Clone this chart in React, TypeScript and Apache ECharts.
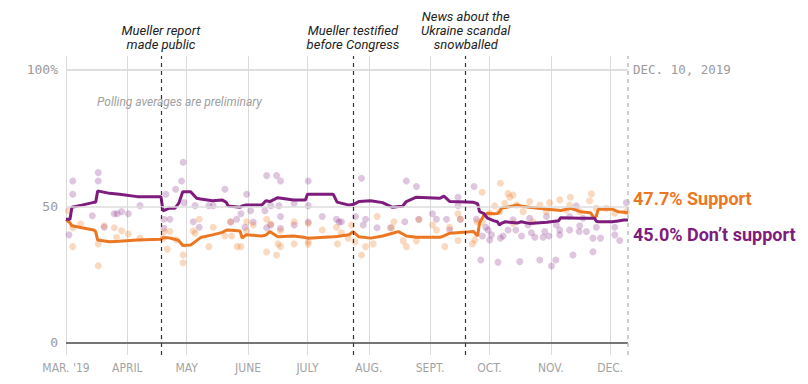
import React, { useEffect, useRef } from "react";
import * as echarts from "echarts";

// x values are days since March 1, 2019
const monthTicks = [0, 31, 61, 92, 122, 153, 184, 214, 245, 275];
const monthLabels = ["MAR. '19", "APRIL", "MAY", "JUNE", "JULY", "AUG.", "SEPT.", "OCT.", "NOV.", "DEC."];
const endDay = 284;
const endDateLabel = "DEC. 10, 2019";
const yTickValues = [0, 50, 100];
const yTickLabels = ["0", "50", "100%"];

const eventDays = [48, 145, 202];
const eventLabels = [
  "Mueller report\nmade public",
  "Mueller testified\nbefore Congress",
  "News about the\nUkraine scandal\nsnowballed",
];

const noteText = "Polling averages are preliminary";

const avgDays = [
  0, 2, 3, 8, 14, 15, 16, 22, 27, 36, 48, 49, 52, 55, 57, 59, 63, 66, 68, 74,
  79, 81, 82, 88, 89, 91, 99, 101, 103, 107, 115, 121, 122, 135, 137, 143, 145, 148, 154, 160,
  165, 168, 170, 172, 177, 189, 191, 194, 206, 208, 209, 211, 213, 216, 218, 219, 220, 222, 224, 228,
  230, 234, 243, 249, 250, 255, 260, 265, 267, 268, 269, 276, 279, 282, 284,
];
const supportAvg = [
  45.3, 44.0, 42.9, 42.2, 41.4, 40.8, 37.7, 37.1, 37.3, 37.7, 38.0, 38.5, 38.5, 38.0, 37.5, 35.7, 35.9, 37.5, 38.6, 39.6,
  40.5, 41.3, 41.4, 41.0, 38.4, 39.6, 39.2, 39.5, 40.8, 38.9, 39.2, 38.6, 38.4, 38.9, 39.0, 39.6, 40.8, 38.9, 38.4, 39.2,
  40.2, 40.8, 40.0, 39.2, 38.7, 38.7, 39.2, 40.2, 40.8, 39.2, 44.0, 46.5, 47.5, 47.3, 47.4, 48.0, 49.3, 49.6, 49.9, 50.5,
  50.2, 49.7, 49.0, 48.6, 48.5, 49.3, 48.1, 47.7, 45.7, 46.5, 49.0, 49.0, 48.1, 47.9, 47.7,
];
const opposeAvg = [
  45.3, 45.3, 49.7, 50.5, 51.5, 51.5, 55.7, 54.8, 54.5, 53.6, 53.6, 48.4, 49.3, 49.3, 51.2, 55.4, 55.4, 53.0, 52.7, 52.1,
  52.4, 51.5, 50.2, 49.7, 50.2, 50.5, 50.5, 52.1, 51.8, 53.2, 52.4, 52.4, 54.5, 54.5, 51.6, 50.5, 50.7, 51.8, 52.1, 51.4,
  49.7, 50.0, 50.0, 51.8, 53.4, 53.0, 53.8, 51.8, 51.5, 51.0, 48.1, 47.5, 45.7, 44.8, 44.4, 43.2, 43.8, 44.4, 44.2, 43.9,
  44.4, 43.8, 44.2, 44.8, 45.9, 45.8, 45.7, 45.7, 45.7, 44.6, 44.4, 44.4, 44.7, 45.0, 45.0,
];

// individual polls: [day, value]
const supportPolls = [
  [1.2, 48.4], [3.4, 42.2], [3.4, 35.3], [7.4, 43.6], [16.3, 36.3], [16.3, 28.3], [19.3, 42.9], [24.4, 42.2], [25.6, 38.7], [28.1, 41.1],
  [31.5, 39.9], [37.4, 38.4], [49.1, 38.4], [49.6, 40.8], [51.2, 34.3], [52.5, 40.8], [55.9, 37.7], [59.2, 32.2], [59.2, 29.4], [64.3, 41.1],
  [65.2, 40.2], [67.3, 45.3], [72.2, 35.3], [74.4, 42.4], [80.3, 39.2], [83.2, 44.4], [83.7, 39.2], [86.5, 35.3], [88.4, 35.3], [91.3, 44.4],
  [91.3, 41.1], [94.6, 43.2], [101.4, 45.3], [101.4, 33.3], [103.5, 43.6], [106.4, 32.2], [107.2, 36.3], [108.4, 41.1], [108.4, 35.3], [115.3, 44.4],
  [115.3, 36.3], [122.4, 43.8], [122.4, 37.1], [122.4, 36.2], [129.5, 41.4], [136.7, 42.4], [137.2, 36.3], [139.2, 40.4], [142.6, 38.4], [144.3, 43.2],
  [146, 37.1], [149.3, 32.2], [151.4, 35.3], [155.2, 36.3], [157.2, 46.3], [164.5, 42.2], [165.7, 44.4], [170.4, 37.4], [172, 35.3], [177.1, 37.4],
  [178.3, 45.1], [185.2, 43.2], [187.2, 41.4], [191.4, 35.3], [193.9, 42.4], [198.1, 47.3], [198.1, 37.5], [199.3, 45.3], [205.4, 36.3], [206.6, 37.7],
  [207.7, 44.4], [210.3, 55.2], [210.4, 44.4], [214.1, 47.5], [216.7, 50.2], [219.2, 48.1], [219.5, 58.5], [221.7, 51.2], [223.4, 54.8], [224.2, 53.4],
  [225.9, 54.2], [225.9, 43.8], [227.6, 50.5], [231, 48.1], [234.3, 51.8], [236, 44.4], [239.4, 50.5], [242.8, 48.1], [244.4, 51.4], [249.5, 52.4],
  [252.9, 48.7], [254.5, 50.5], [254.9, 53.4], [259.6, 48.1], [264.6, 52.1], [265.5, 54.6], [268, 49.3], [273.1, 49.3], [277.3, 47.5], [283.2, 48.1],
];
const opposePolls = [
  [1.5, 39.6], [3.4, 59.3], [3.4, 54.5], [13.3, 46.6], [16.3, 62.4], [16.3, 59.3], [19.3, 42.4], [24.4, 47.3], [25.9, 47.3], [28.1, 48.1],
  [31.5, 47.3], [37.4, 50.3], [49.5, 45.3], [49.5, 42.0], [50.5, 54.5], [52.5, 45.3], [55.4, 56.3], [58.4, 59.3], [59.2, 66.2], [59.6, 51.4],
  [64.3, 44.4], [65.2, 50.3], [67.3, 42.4], [72.2, 50.3], [74.4, 50.3], [80.3, 56.3], [83.2, 44.3], [86.2, 45.3], [88.4, 47.3], [90.4, 42.4],
  [91.3, 54.5], [93.3, 48.4], [94.6, 44.3], [100.5, 48.4], [101.4, 61.3], [101.4, 42.2], [103.4, 43.2], [103.5, 50.3], [106.4, 61.3], [107.6, 50.3],
  [108.4, 59.3], [108.4, 46.3], [108.4, 42.0], [115.3, 51.2], [115.3, 43.2], [122.4, 59.3], [122.4, 50.3], [122.4, 44.3], [129.5, 46.3], [136.7, 45.3],
  [138, 44.3], [139.2, 44.4], [146.3, 46.3], [149.3, 60.3], [150.2, 43.2], [151.4, 45.3], [157.2, 42.2], [164, 42.2], [171.2, 44.4], [172, 59.3],
  [177.1, 57.3], [178.3, 45.3], [185.2, 47.3], [187.2, 45.3], [192.3, 45.3], [193.9, 41.4], [198.1, 53.4], [198.1, 50.3], [199.3, 45.3], [206.2, 57.3],
  [207.4, 45.3], [209.6, 30.4], [210.4, 39.2], [212.1, 42.4], [213.3, 41.4], [214.1, 37.7], [215, 39.6], [218.3, 29.6], [219.5, 38.4], [220.9, 39.2],
  [223.4, 41.4], [225.9, 45.1], [227.3, 41.4], [229.3, 29.8], [230.2, 39.2], [233.5, 43.2], [234.3, 45.7], [235.2, 40.4], [236.9, 38.7], [239.4, 30.4],
  [241.1, 38.7], [241.9, 40.8], [242.8, 46.3], [244.1, 39.2], [245.3, 28.2], [247.5, 30.4], [247.8, 43.2], [249.5, 41.4], [249.5, 39.6], [254.5, 41.4],
  [254.5, 46.3], [256.2, 32.2], [257.9, 50.2], [259.3, 40.8], [259.6, 42.9], [261.3, 45.7], [263, 40.8], [266.3, 38.4], [266.3, 33.4], [268, 42.4],
  [270.1, 38.4], [277.3, 42.4], [277.3, 39.6], [279.8, 37.5], [283.2, 51.4],
];

const ORANGE = "#ec7722";
const PURPLE = "#7e1c7e";
const SANS = "Roboto, 'Noto Sans', sans-serif";
const MONO = "'DejaVu Sans Mono', 'Liberation Mono', monospace";
const NARROW = "'Liberation Sans Narrow', 'DejaVu Sans Condensed', Roboto, sans-serif";

export default function App() {
  const ref = useRef<HTMLDivElement>(null);

  useEffect(() => {
    if (!ref.current) return;
    const chart = echarts.init(ref.current, undefined, { renderer: "svg" });

    const hLines: any[] = yTickValues.map((v, i) => ({
      yAxis: v,
      lineStyle: v === 0
        ? { color: "#757575", width: 2, type: "solid" }
        : { color: "#dddddd", width: 1.5, type: "solid" },
      label: {
        show: true,
        position: "start",
        formatter: yTickLabels[i],
        color: "#9a9a9a",
        fontFamily: MONO,
        fontSize: 13,
        distance: 8,
      },
    }));
    hLines.push({
      yAxis: 100,
      lineStyle: { color: "#dddddd", width: 1.5, type: "solid" },
      label: {
        show: true,
        position: "end",
        formatter: endDateLabel,
        color: "#9a9a9a",
        fontFamily: MONO,
        fontSize: 12.5,
        distance: 5,
      },
    });

    const vLines: any[] = eventDays.map((d, i) => ({
      xAxis: d,
      lineStyle: { color: "#333333", width: 1.2, type: [4, 4] },
      label: {
        show: true,
        position: "end",
        formatter: eventLabels[i],
        color: "#222222",
        fontFamily: SANS,
        fontStyle: "italic",
        fontSize: 13,
        lineHeight: 14,
        distance: 5,
        align: "center",
      },
    }));
    vLines.push({
      xAxis: endDay,
      lineStyle: { color: "#bdbdbd", width: 1.5, type: [4, 4] },
      label: { show: false },
    });

    const option: any = {
      animation: false,
      title: {
        text: noteText,
        left: 97,
        top: 96,
        padding: 0,
        textStyle: {
          fontStyle: "italic",
          fontWeight: "normal",
          fontSize: 12,
          color: "#a0a0a0",
          fontFamily: SANS,
        },
      },
      grid: { left: 66, right: 180, top: 56, bottom: 29 },
      xAxis: {
        type: "value",
        min: 0,
        max: endDay,
        axisLine: { show: false },
        axisTick: { show: false, customValues: monthTicks },
        axisLabel: {
          customValues: monthTicks,
          formatter: (v: number) => {
            const i = monthTicks.indexOf(v);
            return i >= 0 ? monthLabels[i] : "";
          },
          color: "#a3a3a3",
          fontSize: 12,
          fontFamily: NARROW,
          margin: 7,
        },
        splitLine: { show: true, lineStyle: { color: "#dadada", width: 1 } },
      },
      yAxis: {
        type: "value",
        min: -4.4,
        max: 105.1,
        axisLine: { show: false },
        axisTick: { show: false },
        axisLabel: { show: false },
        splitLine: { show: false },
      },
      series: [
        {
          type: "line",
          data: [],
          silent: true,
          z: 0,
          markLine: {
            silent: true,
            symbol: "none",
            animation: false,
            data: [...hLines, ...vLines],
          },
        },
        {
          type: "scatter",
          data: opposePolls,
          symbolSize: 7,
          silent: true,
          z: 1,
          itemStyle: { color: PURPLE, opacity: 0.25 },
        },
        {
          type: "scatter",
          data: supportPolls,
          symbolSize: 7,
          silent: true,
          z: 1,
          itemStyle: { color: ORANGE, opacity: 0.28 },
        },
        {
          type: "line",
          data: avgDays.map((d, i) => [d, supportAvg[i]]),
          showSymbol: false,
          silent: true,
          z: 3,
          lineStyle: { color: ORANGE, width: 3 },
          itemStyle: { color: ORANGE },
          endLabel: {
            show: true,
            formatter: (p: any) => `${p.value[1].toFixed(1)}% Support`,
            color: ORANGE,
            fontFamily: SANS,
            fontWeight: "bold",
            fontSize: 18,
            distance: 5,
            offset: [0, -14],
          },
        },
        {
          type: "line",
          data: avgDays.map((d, i) => [d, opposeAvg[i]]),
          showSymbol: false,
          silent: true,
          z: 3,
          lineStyle: { color: PURPLE, width: 3 },
          itemStyle: { color: PURPLE },
          endLabel: {
            show: true,
            formatter: (p: any) => `${p.value[1].toFixed(1)}% Don\u2019t support`,
            color: PURPLE,
            fontFamily: SANS,
            fontWeight: "bold",
            fontSize: 18,
            distance: 5,
            offset: [0, 14],
          },
        },
      ],
    };

    chart.setOption(option);
    return () => chart.dispose();
  }, []);

  return (
    <div
      ref={ref}
      style={{ position: "fixed", left: 0, top: 0, width: 808, height: 384, background: "#fff" }}
    />
  );
}
